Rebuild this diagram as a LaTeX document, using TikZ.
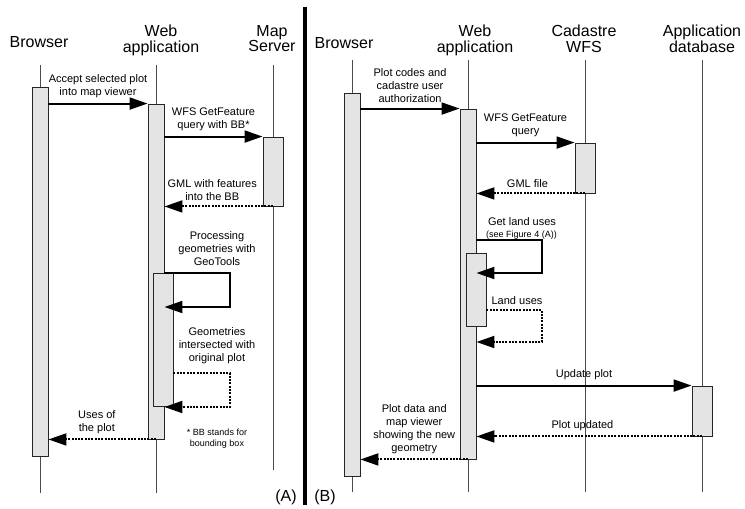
\documentclass[tikz,border=0pt]{standalone}
\usepackage{fontspec}
\setmainfont{Liberation Sans}
\usetikzlibrary{arrows.meta,positioning,backgrounds}
\definecolor{BoxFill}{HTML}{E4E4E4}
\definecolor{LifeGray}{HTML}{4A4A4A}
\tikzset{
  headtxt/.style={align=center, anchor=north, font=\fontsize{16}{15.5}\selectfont, inner sep=0pt},
  actbox/.style={draw=black!85, fill=BoxFill, line width=0.9pt, inner sep=0pt, minimum width=16pt},
  widebox/.style={actbox, minimum width=20pt},
  lifeline/.style={draw=LifeGray, line width=0.9pt},
  callmsg/.style={-{Triangle[length=18pt, width=12pt]}, line width=2pt},
  retmsg/.style={callmsg, dash pattern=on 2pt off 1.3pt},
  msglbl/.style={align=center, font=\fontsize{11}{13}\selectfont, inner sep=1pt, above=4pt},
  looplbl/.style={align=center, font=\fontsize{11}{13}\selectfont, inner sep=0pt},
  notetxt/.style={align=center, font=\fontsize{9}{11}\selectfont, inner sep=0pt},
  paneltag/.style={font=\fontsize{16}{16}\selectfont, inner sep=0pt}
}

\begin{document}
\begin{tikzpicture}[x=1pt, y=-1pt]
    \useasboundingbox (0,0) rectangle (745,509);

    % panel (A)
    \node[headtxt] (hdBrA) at (39,36) {Browser};
    \node[headtxt] (hdWaA) at (161,25) {Web\\application};
    \node[headtxt] (hdMsA) at (272,25) {Map\\Server};

    \node[actbox, minimum height=369pt] (brA) at (40,271.5) {};
    \node[actbox, minimum height=335pt] (waA) at (156,271.5) {};
    \node[widebox, minimum height=69pt] (msA) at (273,171.5) {};
    \node[widebox, minimum height=133pt] (naA) at (163,339.5) {};

    \coordinate (topA) at (0,65);
    \coordinate (botA) at (0,493);
    \coordinate (botMs) at (0,470);
    \begin{scope}[on background layer]
      \draw[lifeline] (brA |- topA) -- (brA |- botA);
      \draw[lifeline] (waA |- topA) -- (waA |- botA);
      \draw[lifeline] (msA |- topA) -- (msA |- botMs);
    \end{scope}

    \draw[callmsg] (brA.east |- waA.north) -- node[msglbl] (lbAccept) {Accept selected plot\\into map viewer} (waA.north west);
    \draw[callmsg] (waA.east |- msA.north) -- node[msglbl] (lbWfsA) {WFS GetFeature\\query with BB*} (msA.north west);
    \draw[retmsg] (msA.south) -- node[msglbl, pos=0.56] (lbGmlA) {GML with features\\into the BB} (waA.east |- msA.south);

    \coordinate (lpA1) at (230,307);
    \coordinate (lpA2) at (230,407);
    \coordinate (stA2) at (0,373);
    \node[looplbl] (lbProc) at (217,249) {Processing\\geometries with\\GeoTools};
    \draw[callmsg] (waA.east |- naA.north) -| (lpA1) -- (waA.east |- lpA1);
    \node[looplbl] (lbInter) at (217,346) {Geometries\\intersected with\\original plot};
    \draw[retmsg] (naA.east |- stA2) -| (lpA2) -- (waA.east |- lpA2);

    \draw[retmsg] (waA.south) -- node[msglbl, pos=0.55] (lbUses) {Uses of\\the plot} (brA.east |- waA.south);
    \node[notetxt] (noteBB) at (217,439) {* BB stands for\\bounding box};
    \node[paneltag] (tagA) at (286,497) {(A)};

    % divider
    \draw[line width=4pt] (304.5,7) -- (304.5,505);

    % panel (B)
    \node[headtxt] (hdBrB) at (344,37) {Browser};
    \node[headtxt] (hdWaB) at (475,25) {Web\\application};
    \node[headtxt] (hdCdB) at (584,25) {Cadastre\\WFS};
    \node[headtxt] (hdDbB) at (702,25) {Application\\database};

    \node[actbox, minimum height=383pt] (brB) at (352,284.5) {};
    \node[actbox, minimum height=350pt] (waB) at (468,284) {};
    \node[widebox, minimum height=50pt] (cdB) at (585,168) {};
    \node[widebox, minimum height=73pt] (naB) at (476,289.5) {};
    \node[widebox, minimum height=50pt] (dbB) at (702,411) {};

    \coordinate (topB) at (0,60);
    \coordinate (botB) at (0,492);
    \begin{scope}[on background layer]
      \draw[lifeline] (brB |- topB) -- (brB |- botB);
      \draw[lifeline] (waB |- topB) -- (waB |- botB);
      \draw[lifeline] (cdB |- topB) -- (cdB |- botB);
      \draw[lifeline] (dbB |- topB) -- (dbB |- botB);
    \end{scope}

    \draw[callmsg] (brB.east |- waB.north) -- node[msglbl] (lbCodes) {Plot codes and\\cadastre user\\authorization} (waB.north west);
    \draw[callmsg] (waB.east |- cdB.north) -- node[msglbl] (lbWfsB) {WFS GetFeature\\query} (cdB.north west);
    \draw[retmsg] (cdB.south) -- node[msglbl, pos=0.53] (lbGmlB) {GML file} (waB.east |- cdB.south);

    \coordinate (stB1) at (0,240);
    \coordinate (lpB1) at (542,273);
    \coordinate (stB2) at (0,310);
    \coordinate (lpB2) at (542,342);
    \node[looplbl] (lbLand) at (522,222) {Get land uses};
    \node[notetxt] (lbSee) at (521.5,235) {(see Figure 4 (A))};
    \draw[callmsg] (waB.east |- stB1) -| (lpB1) -- (waB.east |- lpB1);
    \node[looplbl] (lbLandRet) at (517,301) {Land uses};
    \draw[retmsg] (naB.east |- stB2) -| (lpB2) -- (waB.east |- lpB2);

    \draw[callmsg] (waB.east |- dbB.north) -- node[msglbl] (lbUpd) {Update plot} (dbB.north west);
    \draw[retmsg] (dbB.south) -- node[msglbl, pos=0.53] (lbUpdd) {Plot updated} (waB.east |- dbB.south);
    \draw[retmsg] (waB.south) -- node[msglbl] (lbData) {Plot data and\\map viewer\\showing the new\\geometry} (brB.east |- waB.south);
    \node[paneltag] (tagB) at (325,497) {(B)};
  \end{tikzpicture}
\end{document}
